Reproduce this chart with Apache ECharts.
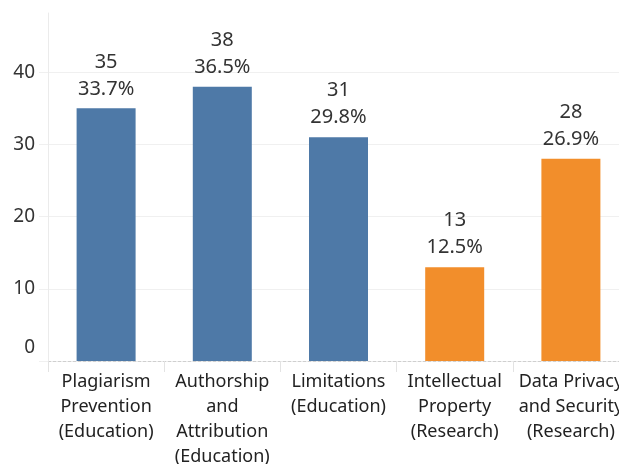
<!DOCTYPE html>
<html><head><meta charset="utf-8">
<script src="https://cdn.jsdelivr.net/npm/echarts@6/dist/echarts.min.js"></script>
<style>html,body{margin:0;padding:0;background:#fff}#c{width:619px;height:464px}</style>
</head><body><div id="c"></div>
<script>
const categories = ["Plagiarism\nPrevention\n(Education)", "Authorship\nand\nAttribution\n(Education)", "Limitations\n(Education)", "Intellectual\nProperty\n(Research)", "Data Privacy\nand Security\n(Research)"];
const counts = [35, 38, 31, 13, 28];
const percents = ["33.7%", "36.5%", "29.8%", "12.5%", "26.9%"];
const groups = ["Education", "Education", "Education", "Research", "Research"];
const yTicks = [0, 10, 20, 30, 40];
const groupColors = {Education: "#4e79a7", Research: "#f28e2b"};

const FONT = "Noto Sans";
const chart = echarts.init(document.getElementById('c'));
chart.setOption({
  animation: false,
  grid: {left: 48, top: 13, width: 581, height: 348, containLabel: false, outerBoundsMode: 'none'},
  xAxis: {
    type: 'category', data: categories,
    axisLine: {show: true, lineStyle: {color: '#cfcfcf', type: [3, 2], width: 1}},
    axisTick: {show: true, alignWithLabel: false, length: 11, lineStyle: {color: '#e3e3e3'}},
    axisLabel: {color: '#222', fontFamily: FONT, fontSize: 18, lineHeight: 25, margin: 8, interval: 0},
  },
  yAxis: {
    type: 'value', min: 0, max: 48.2, interval: 10,
    axisLine: {show: true, lineStyle: {color: '#ebebeb'}},
    axisTick: {show: true, length: 9, lineStyle: {color: '#f0f0f0'}},
    splitLine: {show: true, showMinLine: false, showMaxLine: false, lineStyle: {color: '#f0f0f0'}},
    axisLabel: {
      color: '#333', fontFamily: FONT, fontSize: 19, margin: 13, showMaxLabel: false,
      formatter: v => v === 0 ? '{z|0}' : String(v),
      rich: {z: {fontFamily: FONT, fontSize: 19, color: '#333', padding: [0, 0, 26, 0]}}
    }
  },
  series: [{
    type: 'bar', barWidth: 59,
    data: counts.map((v, i) => ({value: v, itemStyle: {color: groupColors[groups[i]]}})),
    label: {
      show: true, position: 'top', distance: 6, color: '#333', fontFamily: FONT, fontSize: 20, lineHeight: 27,
      formatter: p => p.value + '\n' + percents[p.dataIndex]
    }
  }]
});
</script></body></html>
